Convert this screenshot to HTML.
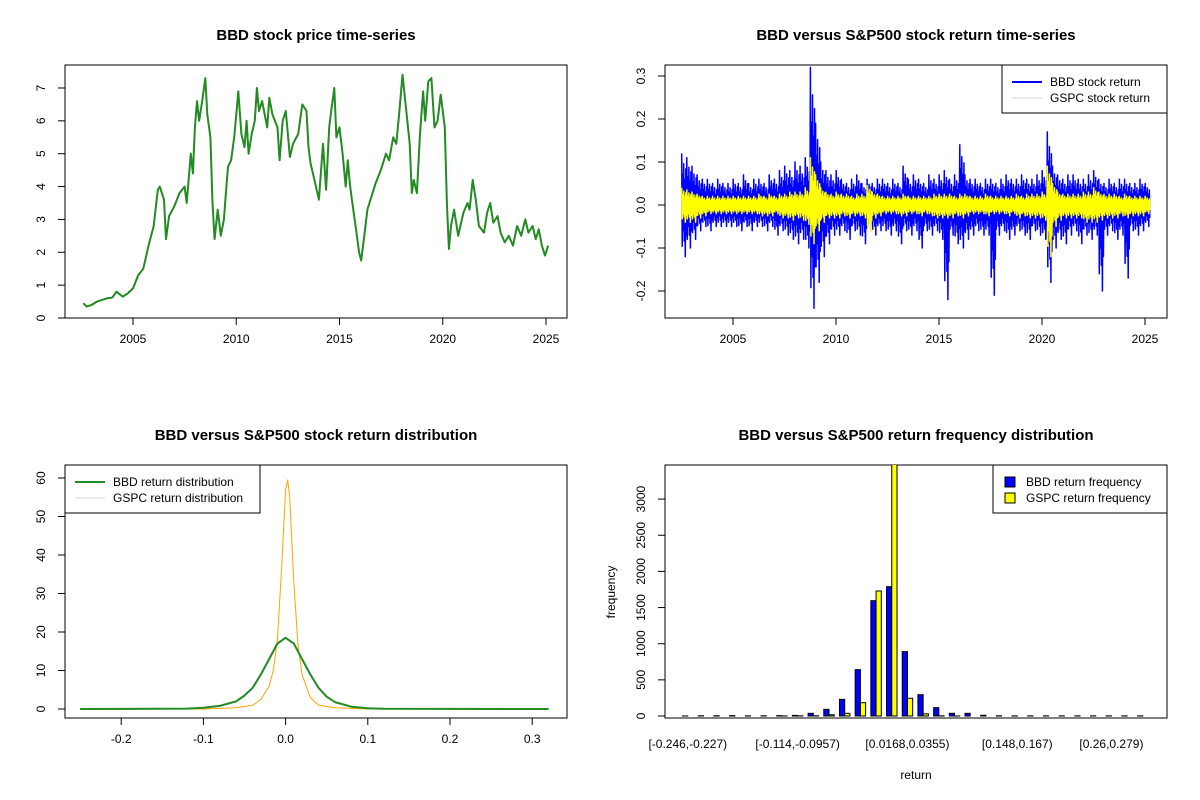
<!DOCTYPE html>
<html><head><meta charset="utf-8"><style>
body{margin:0;background:#fff}
svg{display:block;font-family:"Liberation Sans",Arial,sans-serif}
</style></head><body>
<svg id="c" width="1200" height="800" xmlns="http://www.w3.org/2000/svg">
<rect width="1200" height="800" fill="#fff"/>
</svg>
<script>
// ---------- data ----------
const priceYears=[2002.6,2002.75,2003,2003.25,2003.5,2003.75,2004,2004.2,2004.5,2004.75,2005,2005.25,2005.5,2005.75,2006,2006.2,2006.3,2006.5,2006.6,2006.75,2007,2007.25,2007.5,2007.6,2007.8,2007.9,2008,2008.1,2008.2,2008.35,2008.5,2008.6,2008.75,2008.85,2008.95,2009.1,2009.25,2009.4,2009.5,2009.6,2009.75,2009.9,2010,2010.1,2010.25,2010.4,2010.5,2010.6,2010.75,2010.9,2011,2011.1,2011.25,2011.5,2011.6,2011.75,2012,2012.1,2012.25,2012.4,2012.6,2012.75,2013,2013.2,2013.4,2013.5,2013.6,2013.75,2014,2014.2,2014.35,2014.5,2014.6,2014.75,2014.85,2015,2015.15,2015.3,2015.4,2015.5,2015.6,2015.8,2015.95,2016.05,2016.2,2016.35,2016.5,2016.75,2017,2017.25,2017.4,2017.6,2017.75,2017.9,2018.05,2018.2,2018.4,2018.5,2018.6,2018.75,2018.9,2019.05,2019.15,2019.3,2019.45,2019.6,2019.75,2019.9,2020.1,2020.2,2020.3,2020.4,2020.55,2020.75,2021,2021.2,2021.3,2021.45,2021.6,2021.75,2022,2022.15,2022.3,2022.45,2022.65,2022.8,2023,2023.2,2023.4,2023.6,2023.8,2024,2024.15,2024.35,2024.5,2024.65,2024.8,2024.95,2025.1];
const priceValues=[0.45,0.35,0.4,0.5,0.55,0.6,0.62,0.8,0.65,0.75,0.9,1.3,1.5,2.2,2.8,3.9,4.0,3.6,2.4,3.1,3.4,3.8,4.0,3.5,5.0,4.4,5.8,6.6,6.0,6.6,7.3,6.2,5.5,3.5,2.4,3.3,2.5,3.0,3.8,4.6,4.8,5.5,6.2,6.9,5.6,5.2,6.0,5.0,5.6,6.0,7.0,6.3,6.6,5.8,6.7,6.2,5.8,4.8,6.0,6.3,4.9,5.3,5.6,6.5,6.3,5.2,4.7,4.3,3.6,5.3,3.9,5.8,6.3,7.0,5.5,5.8,5.0,4.0,4.8,4.1,3.6,2.7,2.0,1.75,2.5,3.3,3.6,4.1,4.5,5.0,4.8,5.5,5.3,6.3,7.4,6.5,5.3,3.8,4.2,3.8,5.6,6.9,6.0,7.2,7.3,5.8,6.0,6.8,5.8,3.5,2.1,2.8,3.3,2.5,3.2,3.5,3.3,4.2,3.6,2.8,2.6,3.2,3.5,2.9,3.1,2.6,2.3,2.5,2.2,2.8,2.5,3.0,2.6,2.8,2.4,2.7,2.2,1.9,2.2];
const retStartYear=2002.5, retStep=0.25;
const bbdUp=[.12,.11,.09,.07,.06,.06,.05,.06,.05,.05, .06,.05,.07,.05,.06,.06,.05,.07,.06,.08, .09,.08,.10,.09,.11,.32,.19,.10,.08,.07, .08,.06,.05,.06,.07,.05,.06,.05,.06,.06, .05,.06,.05,.09,.06,.07,.06,.05,.07,.06, .07,.08,.06,.07,.14,.07,.06,.06,.05,.06, .06,.05,.06,.07,.06,.06,.07,.06,.06,.07, .08,.17,.09,.07,.06,.07,.07,.06,.06,.07, .08,.06,.05,.06,.05,.06,.06,.05,.05,.06, .05];
const bbdDn=[-.12,-.10,-.08,-.06,-.05,-.06,-.05,-.05,-.05,-.05, -.05,-.06,-.05,-.06,-.05,-.05,-.06,-.05,-.07,-.06, -.07,-.08,-.09,-.08,-.10,-.24,-.18,-.12,-.09,-.07, -.07,-.06,-.08,-.06,-.07,-.09,-.06,-.07,-.06,-.06, -.07,-.06,-.09,-.06,-.07,-.06,-.10,-.06,-.07,-.06, -.08,-.22,-.07,-.09,-.10,-.08,-.07,-.06,-.07,-.07, -.21,-.07,-.06,-.08,-.07,-.06,-.07,-.08,-.06,-.07, -.08,-.18,-.10,-.08,-.09,-.07,-.06,-.09,-.07,-.08, -.07,-.20,-.07,-.06,-.08,-.07,-.17,-.06,-.07,-.06, -.05];
const gspcUp=[.04,.035,.03,.025,.02,.02,.02,.02,.02,.02, .02,.02,.02,.02,.02,.025,.02,.025,.02,.025, .025,.03,.03,.03,.04,.11,.07,.04,.03,.025, .03,.025,.025,.02,.025,.025,.045,.03,.025,.02, .02,.02,.02,.025,.02,.02,.02,.02,.02,.025, .025,.025,.025,.02,.025,.025,.02,.02,.02,.025, .02,.02,.02,.02,.02,.025,.02,.025,.025,.025, .03,.09,.05,.03,.025,.025,.025,.025,.03,.03, .04,.03,.025,.025,.025,.02,.025,.02,.02,.02, .02];
const gspcDn=[-.04,-.04,-.04,-.03,-.025,-.02,-.02,-.02,-.02,-.02, -.02,-.02,-.02,-.02,-.02,-.025,-.025,-.025,-.02,-.03, -.03,-.035,-.03,-.035,-.045,-.09,-.06,-.04,-.03,-.03, -.03,-.025,-.03,-.025,-.025,-.03,-.06,-.03,-.025,-.02, -.02,-.02,-.025,-.025,-.02,-.02,-.025,-.02,-.025,-.03, -.03,-.03,-.03,-.025,-.03,-.025,-.02,-.02,-.02,-.025, -.02,-.02,-.02,-.025,-.02,-.03,-.025,-.03,-.03,-.03, -.035,-.12,-.05,-.035,-.03,-.03,-.03,-.03,-.04,-.04, -.04,-.035,-.03,-.03,-.03,-.025,-.03,-.025,-.025,-.025, -.02];
const bbdDensX=[-0.25,-0.12,-0.1,-0.08,-0.06,-0.05,-0.04,-0.03,-0.02,-0.01,0,0.01,0.02,0.03,0.04,0.05,0.06,0.08,0.1,0.12,0.32];
const bbdDensY=[0,0.1,0.3,0.8,2,3.5,5.5,9,13,17,18.5,17,13,9,5.5,3.2,1.8,0.6,0.2,0.05,0];
const gspcDensX=[-0.25,-0.1,-0.06,-0.04,-0.03,-0.02,-0.015,-0.01,-0.005,0,0.0025,0.005,0.01,0.015,0.02,0.03,0.04,0.06,0.1,0.32];
const gspcDensY=[0,0,0.3,1,2.5,6,10,18,36,57,59.5,55,33,17,9,3,1,0.3,0,0];
const binLabels=["[-0.246,-0.227)","[-0.114,-0.0957)","[0.0168,0.0355)","[0.148,0.167)","[0.26,0.279)"];
const binLabelIdx=[0,7,14,21,27];
const bbdFreq=[1,3,4,5,2,3,5,8,37,92,230,641,1595,1789,890,295,115,37,37,10,3,2,2,2,2,2,2,2,2,2];
const gspcFreq=[0,0,0,0,0,0,1,2,3,17,37,184,1729,4200,245,30,3,1,0,0,0,0,0,0,0,0,0,0,0,0];
const yearTicks=[2005,2010,2015,2020,2025];
const priceTicks=[0,1,2,3,4,5,6,7];
const retTicks=[-0.2,-0.1,0.0,0.1,0.2,0.3];
const densXTicks=[-0.2,-0.1,0.0,0.1,0.2,0.3];
const densYTicks=[0,10,20,30,40,50,60];
const freqTicks=[0,500,1000,1500,2000,2500,3000];

// ---------- helpers ----------
const NS="http://www.w3.org/2000/svg";
const svg=document.getElementById('c');
function mk(tag,attrs,parent,text){const e=document.createElementNS(NS,tag);for(const k in attrs)e.setAttribute(k,attrs[k]);if(text!==undefined)e.textContent=text;(parent||svg).appendChild(e);return e;}
function box(x0,y0,x1,y1,name){const r=mk('rect',{x:x0,y:y0,width:x1-x0,height:y1-y0,fill:'none',stroke:'#000','stroke-width':1});

}
function title(x,y,t,name){const e=mk('text',{x:x,y:y,'text-anchor':'middle','font-size':15,'font-weight':'bold'},svg,t);

}
function xAxis(vals,fx,y,labels,name){const g=mk('g',{});


mk('line',{x1:fx(vals[0]),x2:fx(vals[vals.length-1]),y1:y,y2:y,stroke:'#000'},g);
vals.forEach((v,i)=>{const x=fx(v);mk('line',{x1:x,x2:x,y1:y,y2:y+7,stroke:'#000'},g);mk('text',{x:x,y:y+25,'text-anchor':'middle','font-size':12},g,labels[i]);});}
function yAxis(vals,fy,x,labels,name){const g=mk('g',{});


mk('line',{x1:x,x2:x,y1:fy(vals[0]),y2:fy(vals[vals.length-1]),stroke:'#000'},g);
vals.forEach((v,i)=>{const y=fy(v);mk('line',{x1:x-7,x2:x,y1:y,y2:y,stroke:'#000'},g);mk('text',{x:x-20,y:y,'text-anchor':'middle','font-size':12,transform:`rotate(-90 ${x-20} ${y})`},g,labels[i]);});}
function poly(pts,color,w,name,clip){const p=mk('polyline',{points:pts.map(p=>p[0].toFixed(1)+','+p[1].toFixed(1)).join(' '),fill:'none',stroke:color,'stroke-width':w,'stroke-linejoin':'round'});
if(clip)p.setAttribute('clip-path',clip);

}
const defs=mk('defs',{});
mk('rect',{x:665,y:65,width:502,height:253},mk('clipPath',{id:'cTR'},defs));
mk('rect',{x:665,y:465,width:502,height:253},mk('clipPath',{id:'cBR'},defs));

// ---------- panel 1: price ----------
const fx1=y=>133+(y-2005)*20.65, fy1=v=>318-v*32.86;
box(65,65,567,318,'price-plot-area');
title(316,40,'BBD stock price time-series','price-chart-title');
xAxis(yearTicks,fx1,318,yearTicks.map(String),'price-x-axis');
yAxis(priceTicks,fy1,65,priceTicks.map(String),'price-y-axis');
poly(priceYears.map((y,i)=>[fx1(y),fy1(priceValues[i])]),'#228b22',2,'bbd-price-line');

// ---------- panel 2: returns ----------
const fx2=y=>733+(y-2005)*20.6, fy2=v=>205-v*430;
box(665,65,1167,318,'return-plot-area');
title(916,40,'BBD versus S&P500 stock return time-series','return-chart-title');
xAxis(yearTicks,fx2,318,yearTicks.map(String),'return-x-axis');
yAxis(retTicks,fy2,665,retTicks.map(v=>v.toFixed(1)),'return-y-axis');
function zig(up,dn,fx,fy){const pts=[];const f=[1,0.6,0.8,0.5,0.7];up.forEach((u,i)=>{const t=retStartYear+i*retStep;for(let k=0;k<5;k++){pts.push([fx(t+retStep*(k*0.2+0.03)),fy(u*f[k])]);pts.push([fx(t+retStep*(k*0.2+0.13)),fy(dn[i]*f[(k+2)%5])]);}});return pts;}
poly(zig(bbdUp,bbdDn,fx2,fy2),'#0000ff',1.5,'bbd-return-line','url(#cTR)');
poly(zig(gspcUp,gspcDn,fx2,fy2),'#ffff00',1.5,'gspc-return-line','url(#cTR)');
(function(){const g=mk('g',{});


mk('rect',{x:1002,y:65,width:165,height:48,fill:'#fff',stroke:'#000'},g);
mk('line',{x1:1012,x2:1042,y1:82,y2:82,stroke:'#0000ff','stroke-width':2},g);
mk('line',{x1:1012,x2:1042,y1:98,y2:98,stroke:'#d3d3d3','stroke-width':1},g);
mk('text',{x:1050,y:86,'font-size':12},g,'BBD stock return');
mk('text',{x:1050,y:102,'font-size':12},g,'GSPC stock return');})();

// ---------- panel 3: density ----------
const fx3=v=>285.6+v*822, fy3=v=>709-v*3.85;
box(65,465,567,718,'density-plot-area');
title(316,440,'BBD versus S&P500 stock return distribution','density-chart-title');
xAxis(densXTicks,fx3,718,densXTicks.map(v=>v.toFixed(1)),'density-x-axis');
yAxis(densYTicks,fy3,65,densYTicks.map(String),'density-y-axis');
poly(gspcDensX.map((x,i)=>[fx3(x),fy3(gspcDensY[i])]),'#ffa500',1,'gspc-density-line');
poly(bbdDensX.map((x,i)=>[fx3(x),fy3(bbdDensY[i])]),'#228b22',2,'bbd-density-line');
(function(){const g=mk('g',{});


mk('rect',{x:65,y:465,width:195,height:48,fill:'#fff',stroke:'#000'},g);
mk('line',{x1:75,x2:105,y1:482,y2:482,stroke:'#228b22','stroke-width':2},g);
mk('line',{x1:75,x2:105,y1:498,y2:498,stroke:'#d3d3d3','stroke-width':1},g);
mk('text',{x:113,y:486,'font-size':12},g,'BBD return distribution');
mk('text',{x:113,y:502,'font-size':12},g,'GSPC return distribution');})();

// ---------- panel 4: histogram ----------
const unitW=5.23, fu=u=>897+(u-42)*unitW, fy4=v=>716-v*0.0723;
box(665,465,1167,718,'frequency-plot-area');
title(916,440,'BBD versus S&P500 return frequency distribution','frequency-chart-title');
yAxis(freqTicks,fy4,665,freqTicks.map(String),'frequency-y-axis');
const bars=mk('g',{'clip-path':'url(#cBR)'});


bbdFreq.forEach((v,i)=>{
 const b=mk('rect',{x:fu(3*i+1),y:fy4(v),width:unitW,height:fy4(0)-fy4(v),fill:'#0000ff',stroke:'#000','stroke-width':1},bars);
 
 
 const gv=gspcFreq[i];
 const c=mk('rect',{x:fu(3*i+2),y:fy4(gv),width:unitW,height:fy4(0)-fy4(gv),fill:'#ffff00',stroke:'#000','stroke-width':1},bars);
 
 
});
binLabels.forEach((t,k)=>{const e=mk('text',{x:fu(3*binLabelIdx[k]+2),y:748,'text-anchor':'middle','font-size':12},svg,t);
 
 });
(function(){const e=mk('text',{x:916,y:779,'text-anchor':'middle','font-size':12},svg,'return');


const f=mk('text',{x:615,y:592,'text-anchor':'middle','font-size':12,transform:'rotate(-90 615 592)'},svg,'frequency');


const g=mk('g',{});


mk('rect',{x:993,y:465,width:174,height:48,fill:'#fff',stroke:'#000'},g);
mk('rect',{x:1005,y:477,width:10,height:10,fill:'#0000ff',stroke:'#000'},g);
mk('rect',{x:1005,y:493,width:10,height:10,fill:'#ffff00',stroke:'#000'},g);
mk('text',{x:1026,y:486,'font-size':12},g,'BBD return frequency');
mk('text',{x:1026,y:502,'font-size':12},g,'GSPC return frequency');})();
</script>
</body></html>
